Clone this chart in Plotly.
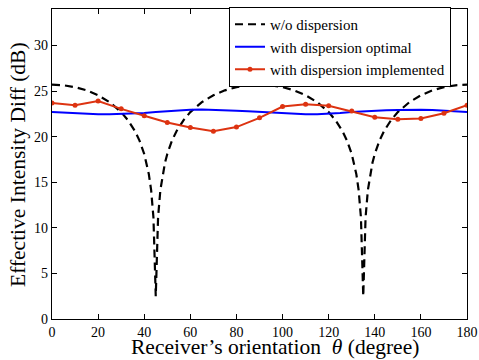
import plotly.graph_objects as go

# black dashed: w/o dispersion
theta_wo = [0, 5, 10, 15, 20, 25, 30, 33, 36, 38, 40, 41, 42, 43, 44, 45, 46, 47, 48, 49, 50, 52, 54, 57, 60,
            65, 70, 75, 80, 85, 90, 95, 100, 105, 110, 115, 120, 123, 126, 128, 130, 131, 132, 133, 134, 135,
            136, 137, 138, 139, 140, 142, 144, 147, 150, 155, 160, 165, 170, 175, 180]
val_wo = [25.7, 25.63, 25.43, 25.08, 24.54, 23.78, 22.69, 21.79, 20.60, 19.54, 18.10, 17.14, 15.89, 14.14, 11.13,
          2.5, 11.13, 14.14, 15.89, 17.14, 18.10, 19.54, 20.60, 21.79, 22.69, 23.78, 24.54, 25.08, 25.43, 25.63,
          25.7, 25.63, 25.43, 25.08, 24.54, 23.78, 22.69, 21.79, 20.60, 19.54, 18.10, 17.14, 15.89, 14.14, 11.13,
          2.5, 11.13, 14.14, 15.89, 17.14, 18.10, 19.54, 20.60, 21.79, 22.69, 23.78, 24.54, 25.08, 25.43, 25.63,
          25.7]

# blue: with dispersion optimal
theta_opt = [0, 5, 10, 15, 20, 25, 30, 35, 40, 45, 50, 55, 60, 65, 70, 75, 80, 85, 90, 95, 100, 105, 110, 115,
             120, 125, 130, 135, 140, 145, 150, 155, 160, 165, 170, 175, 180]
val_opt = [22.7, 22.62, 22.55, 22.5, 22.45, 22.47, 22.5, 22.55, 22.6, 22.7, 22.8, 22.9, 22.95, 22.97, 22.95,
           22.92, 22.85, 22.78, 22.7, 22.65, 22.6, 22.52, 22.46, 22.47, 22.5, 22.6, 22.7, 22.78, 22.85, 22.9,
           22.92, 22.95, 22.95, 22.92, 22.85, 22.78, 22.7]

# red: with dispersion implemented
theta_imp = [0, 10, 20, 30, 40, 50, 60, 70, 80, 90, 100, 110, 120, 130, 140, 150, 160, 170, 180]
val_imp = [23.7, 23.45, 23.9, 23.05, 22.3, 21.55, 21.0, 20.6, 21.05, 22.06, 23.3, 23.55, 23.38, 22.8, 22.14,
           21.9, 22.0, 22.57, 23.45]

x_ticks = [0, 20, 40, 60, 80, 100, 120, 140, 160, 180]
y_ticks = [0, 5, 10, 15, 20, 25, 30]

FONT = "Liberation Serif"

fig = go.Figure()
fig.add_trace(go.Scatter(x=theta_wo, y=val_wo, mode="lines", name="w/o dispersion",
                         line=dict(color="black", width=2.2, dash="8px,5px")))
fig.add_trace(go.Scatter(x=theta_opt, y=val_opt, mode="lines", name="with dispersion optimal",
                         line=dict(color="#0000ff", width=2)))
fig.add_trace(go.Scatter(x=theta_imp, y=val_imp, mode="lines+markers", name="with dispersion implemented",
                         line=dict(color="#dd3311", width=2), marker=dict(color="#dd3311", size=5)))

axis_common = dict(showgrid=False, zeroline=False, showline=True, linecolor="black", linewidth=1.2,
                   mirror="ticks", ticks="inside", ticklen=5, tickcolor="black", tickwidth=1,
                   automargin=False,
                   tickfont=dict(family=FONT, size=14, color="black"))

fig.update_layout(
    width=479, height=360,
    margin=dict(l=52, r=12, t=8, b=41, pad=0),
    paper_bgcolor="white", plot_bgcolor="white",
    font=dict(family=FONT, color="black"),
    showlegend=True,
    legend=dict(x=0.4265, y=0.8746, xanchor="left", yanchor="middle",
                bgcolor="white", bordercolor="black", borderwidth=1,
                font=dict(family=FONT, size=15, color="black"),
                itemwidth=30, tracegroupgap=0),
    xaxis=dict(range=[0, 180], tickvals=x_ticks, **axis_common),
    yaxis=dict(range=[0, 34], tickvals=y_ticks, **axis_common),
    annotations=[
        dict(text="Receiver’s orientation  <i>θ</i> (degree)", xref="paper", yref="paper",
             x=0.5, y=-0.0916, xanchor="center", yanchor="middle", showarrow=False, xshift=15,
             font=dict(family=FONT, size=21.5, color="black")),
        dict(text="Effective Intensity Diff (dB)", xref="paper", yref="paper",
             x=0, y=0.5, xanchor="center", yanchor="middle", showarrow=False, textangle=-90,
             xshift=-34, yshift=-1, font=dict(family=FONT, size=21.5, color="black")),
    ],
)

fig.write_html("out.html", config={"displayModeBar": False},
               post_script="document.body.style.margin='0';document.body.style.padding='0';")
